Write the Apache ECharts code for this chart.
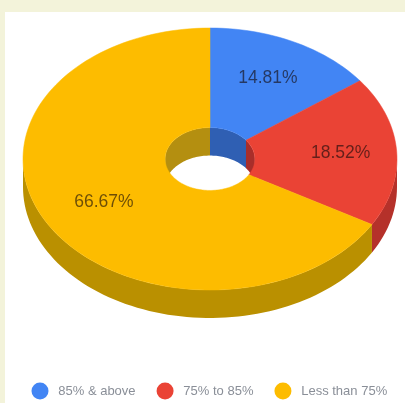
<!DOCTYPE html>
<html>
<head>
<meta charset="utf-8">
<style>
html,body{margin:0;padding:0;background:#f3f3da;overflow:hidden}
#chart{width:405px;height:403px;filter:blur(0.7px)}
</style>
<script src="https://cdn.jsdelivr.net/npm/echarts@6/dist/echarts.min.js"></script>
</head>
<body>
<div id="chart"></div>
<script>
const categories = ['85% & above', '75% to 85%', 'Less than 75%'];
const values = [14.81, 18.52, 66.67];
const topColors = ['#4285F4', '#EA4335', '#FDBC00'];
const wallColors = ['#2F5FB3', '#B5312A', '#BA9000'];
const holeWallColors = ['#2F5FB3', '#A92E2A', '#B48F10'];
const labelRadii = [0.69, 0.70, 0.655];

const HOLE = 0.24, DEPTH = 28, STEP = 2;
const total = values.reduce((a, b) => a + b, 0);
const starts = [];
values.reduce((acc, v, i) => { starts[i] = acc; return acc + v; }, 0);
const deg = v => v / total * 360;

function arc(api, r, a0, a1, dy) {
  const pts = [];
  const n = Math.max(1, Math.ceil(Math.abs(a1 - a0) / STEP));
  for (let k = 0; k <= n; k++) {
    const t = (a0 + (a1 - a0) * k / n) * Math.PI / 180;
    const p = api.coord([r * Math.sin(t), r * Math.cos(t)]);
    pts.push([p[0], p[1] + dy]);
  }
  return pts;
}
function band(api, r, a0, a1, fill, z2) {
  return { type: 'polygon', z2, silent: true,
    shape: { points: arc(api, r, a0, a1, 0).concat(arc(api, r, a1, a0, DEPTH)) },
    style: { fill } };
}
function makeItem(i) {
  return function (params, api) {
    const a0 = deg(starts[i]);
    const a1 = a0 + deg(api.value(0));
    const children = [];
    // Outer wall: front half, 90 to 270 degrees
    const o0 = Math.max(a0, 90), o1 = Math.min(a1, 270);
    if (o1 > o0) children.push(band(api, 1, o0, o1, wallColors[i], 1));
    // Hole wall: back half, 270 to 450 degrees
    [[-90, 90], [270, 450]].forEach(([lo, hi]) => {
      const h0 = Math.max(a0, lo), h1 = Math.min(a1, hi);
      if (h1 > h0) children.push(band(api, HOLE, h0, h1, holeWallColors[i], 1));
    });
    // Top face
    children.push({ type: 'polygon', z2: 2, silent: true,
      shape: { points: arc(api, 1, a0, a1, 0).concat(arc(api, HOLE, a1, a0, 0)) },
      style: { fill: topColors[i], stroke: topColors[i], lineWidth: 0.5 } });
    // Label
    const mid = (a0 + a1) / 2 * Math.PI / 180;
    const c = api.coord([labelRadii[i] * Math.sin(mid), labelRadii[i] * Math.cos(mid)]);
    children.push({ type: 'text', z2: 3, silent: true, x: c[0], y: c[1],
      style: { text: api.value(0).toFixed(2) + '%', fill: 'rgba(20,10,10,0.62)',
        font: '17.5px "Liberation Sans", Arial, sans-serif', align: 'center', verticalAlign: 'middle' } });
    return { type: 'group', children };
  };
}

const chart = echarts.init(document.getElementById('chart'), null, { renderer: 'canvas' });
chart.setOption({
  animation: false,
  backgroundColor: '#f3f3da',
  graphic: [{ type: 'rect', z: -10, silent: true,
    shape: { x: 5, y: 12, width: 420, height: 420 },
    style: { fill: '#ffffff' } }],
  grid: { left: 23, top: 28, width: 374, height: 262 },
  xAxis: { type: 'value', min: -1, max: 1, show: false },
  yAxis: { type: 'value', min: -1, max: 1, show: false },
  legend: {
    data: categories, left: 31.5, top: 382.5, padding: 0, icon: 'circle',
    itemWidth: 26.5, itemHeight: 17, itemGap: 21,
    textStyle: { color: '#8a8f98', fontSize: 13, fontFamily: '"Liberation Sans", Arial, sans-serif' },
    selectedMode: false
  },
  color: topColors,
  series: categories.map((name, i) => ({
    name, type: 'custom', coordinateSystem: 'cartesian2d', clip: false,
    itemStyle: { color: topColors[i] },
    encode: { x: 0, y: 0 },
    data: [[values[i]]],
    renderItem: makeItem(i)
  }))
});
</script>
</body>
</html>
